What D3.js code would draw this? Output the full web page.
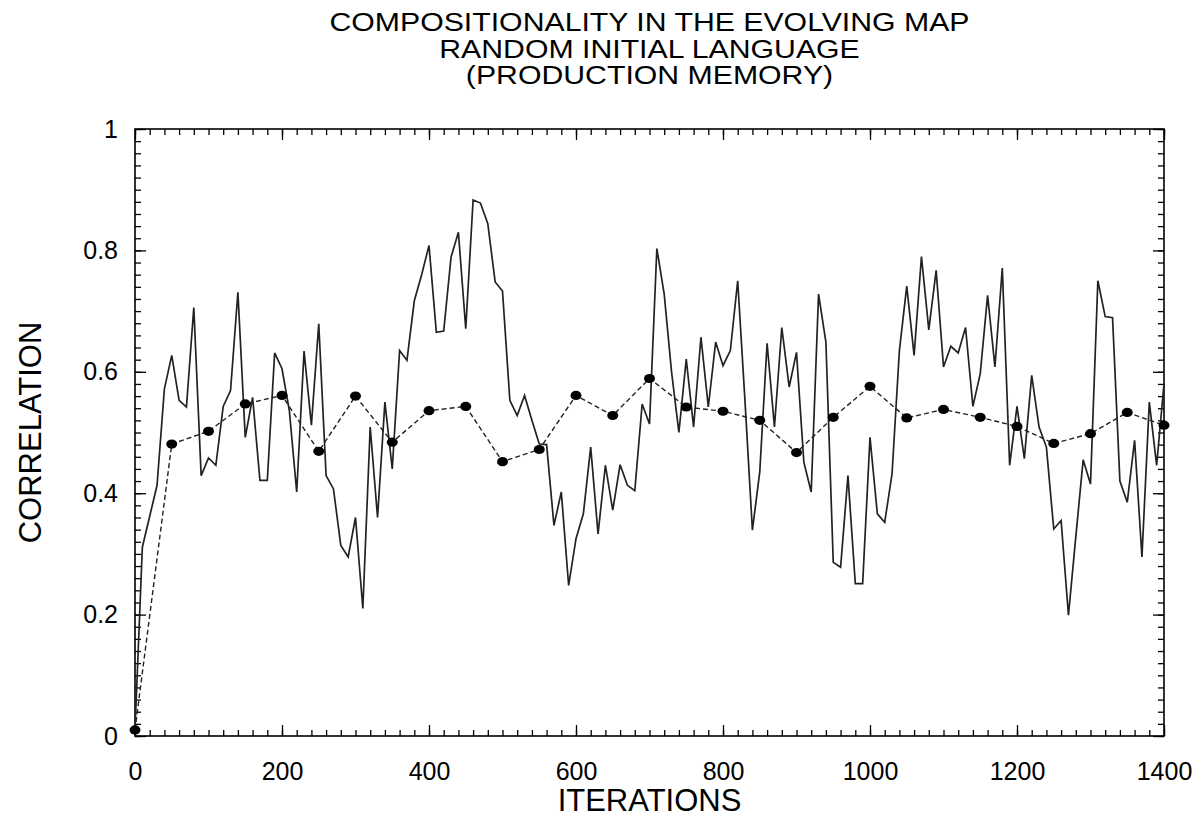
<!DOCTYPE html>
<html>
<head>
<meta charset="utf-8">
<script src="https://cdn.jsdelivr.net/npm/d3@7"></script>
<style>
  html, body { margin: 0; padding: 0; background: #fff; }
  svg { display: block; }
  text { font-family: "Liberation Sans", Arial, Helvetica, sans-serif; fill: #000; }
</style>
</head>
<body>
<svg id="chart" width="1201" height="827"></svg>
<script>
// ---- Data ----
const titleLines = ["COMPOSITIONALITY IN THE EVOLVING MAP", "RANDOM INITIAL LANGUAGE", "(PRODUCTION MEMORY)"];
const xLabel = "ITERATIONS";
const yLabel = "CORRELATION";
const xTicks = [0, 200, 400, 600, 800, 1000, 1200, 1400];
const yTicks = [0, 0.2, 0.4, 0.6, 0.8, 1];
const yTickLabels = ["0", "0.2", "0.4", "0.6", "0.8", "1"];

// solid series: sampled every 10 iterations, from 0 to 1400
const solidStep = 10;
const solidValues = [
  0.01, 0.311, 0.362, 0.413, 0.572, 0.627, 0.553, 0.542, 0.706, 0.429,
  0.458, 0.446, 0.543, 0.569, 0.731, 0.492, 0.558, 0.421, 0.421, 0.631,
  0.605, 0.536, 0.402, 0.634, 0.512, 0.679, 0.429, 0.407, 0.314, 0.295,
  0.360, 0.210, 0.509, 0.360, 0.550, 0.440, 0.635, 0.619, 0.717, 0.760,
  0.808, 0.665, 0.667, 0.789, 0.830, 0.671, 0.883, 0.878, 0.844, 0.748,
  0.733, 0.553, 0.528, 0.561, 0.520, 0.481, 0.480, 0.347, 0.402, 0.248,
  0.325, 0.366, 0.476, 0.333, 0.446, 0.372, 0.447, 0.413, 0.404, 0.547,
  0.514, 0.803, 0.728, 0.600, 0.500, 0.621, 0.509, 0.657, 0.542, 0.649,
  0.610, 0.635, 0.750, 0.550, 0.339, 0.435, 0.647, 0.509, 0.673, 0.575,
  0.632, 0.451, 0.402, 0.728, 0.649, 0.286, 0.278, 0.429, 0.251, 0.251,
  0.492, 0.366, 0.352, 0.432, 0.635, 0.741, 0.627, 0.790, 0.669, 0.767,
  0.608, 0.642, 0.631, 0.673, 0.543, 0.597, 0.726, 0.608, 0.771, 0.446,
  0.543, 0.457, 0.594, 0.509, 0.476, 0.341, 0.355, 0.199, 0.328, 0.455,
  0.415, 0.750, 0.691, 0.689, 0.420, 0.385, 0.487, 0.295, 0.550, 0.446,
  0.580
];

// dashed series with dots: every 50 iterations
const dashedIterations = [0, 50, 100, 150, 200, 250, 300, 350, 400, 450, 500, 550, 600, 650, 700,
  750, 800, 850, 900, 950, 1000, 1050, 1100, 1150, 1200, 1250, 1300, 1350, 1400];
const dashedValues = [0.01, 0.481, 0.502, 0.547, 0.561, 0.469, 0.560, 0.484, 0.536, 0.543, 0.452,
  0.472, 0.561, 0.528, 0.589, 0.542, 0.535, 0.520, 0.467, 0.525, 0.576, 0.524, 0.538, 0.525,
  0.510, 0.482, 0.498, 0.533, 0.512];

// ---- Layout ----
const W = 1201, H = 827;
const plot = { left: 135, right: 1164, top: 129, bottom: 736 };

const svg = d3.select("#chart");
svg.append("rect").attr("width", W).attr("height", H).attr("fill", "#fff");

const x = d3.scaleLinear().domain([0, 1400]).range([plot.left, plot.right]);
const y = d3.scaleLinear().domain([0, 1]).range([plot.bottom, plot.top]);

const minorX = d3.range(0, 1401, 20);
const minorY = d3.range(0, 51).map(i => i / 50);

function styleAxis(g) {
  g.select(".domain").remove();
  g.selectAll(".tick line").attr("stroke", "#000").attr("stroke-width", 1.3);
  g.selectAll(".tick text").attr("font-size", 25).attr("font-family", '"Liberation Sans", Arial, sans-serif');
}

// minor ticks
svg.append("g").attr("transform", `translate(0,${plot.bottom})`)
  .call(d3.axisBottom(x).tickValues(minorX).tickSize(-6).tickFormat(""))
  .call(styleAxis);
svg.append("g").attr("transform", `translate(0,${plot.top})`)
  .call(d3.axisTop(x).tickValues(minorX).tickSize(-6).tickFormat(""))
  .call(styleAxis);
svg.append("g").attr("transform", `translate(${plot.left},0)`)
  .call(d3.axisLeft(y).tickValues(minorY).tickSize(-6).tickFormat(""))
  .call(styleAxis);
svg.append("g").attr("transform", `translate(${plot.right},0)`)
  .call(d3.axisRight(y).tickValues(minorY).tickSize(-6).tickFormat(""))
  .call(styleAxis);

// major ticks
svg.append("g").attr("transform", `translate(0,${plot.bottom})`)
  .call(d3.axisBottom(x).tickValues(xTicks).tickSize(-11).tickPadding(26).tickFormat(d => String(d)))
  .call(styleAxis);
svg.append("g").attr("transform", `translate(0,${plot.top})`)
  .call(d3.axisTop(x).tickValues(xTicks).tickSize(-11).tickFormat(""))
  .call(styleAxis);
svg.append("g").attr("transform", `translate(${plot.left},0)`)
  .call(d3.axisLeft(y).tickValues(yTicks).tickSize(-11).tickPadding(17).tickFormat((d, i) => yTickLabels[i]))
  .call(styleAxis);
svg.append("g").attr("transform", `translate(${plot.right},0)`)
  .call(d3.axisRight(y).tickValues(yTicks).tickSize(-11).tickFormat(""))
  .call(styleAxis);

// frame
svg.append("rect")
  .attr("x", plot.left).attr("y", plot.top)
  .attr("width", plot.right - plot.left).attr("height", plot.bottom - plot.top)
  .attr("fill", "none").attr("stroke", "#000").attr("stroke-width", 1.6);

// solid line
const solidData = solidValues.map((v, i) => ({ it: i * solidStep, v }));
const line = d3.line().x(d => x(d.it)).y(d => y(d.v));
svg.append("path").datum(solidData)
  .attr("d", line)
  .attr("fill", "none").attr("stroke", "#222").attr("stroke-width", 1.7)
  .attr("stroke-linejoin", "miter");

// dashed line with dots
const dashedData = dashedIterations.map((it, i) => ({ it, v: dashedValues[i] }));
svg.append("path").datum(dashedData)
  .attr("d", line)
  .attr("fill", "none").attr("stroke", "#222").attr("stroke-width", 1.4)
  .attr("stroke-dasharray", "5,3");
svg.append("g").selectAll("ellipse").data(dashedData).join("ellipse")
  .attr("cx", d => x(d.it)).attr("cy", d => y(d.v))
  .attr("rx", 5.5).attr("ry", 4.6).attr("fill", "#000");

// titles (slightly widened glyphs, tight line spacing as in the reference)
const cx = (plot.left + plot.right) / 2;
titleLines.forEach((t, i) => {
  svg.append("text")
    .attr("transform", `translate(${cx},${31 + i * 26.5}) scale(1.21,1)`)
    .attr("text-anchor", "middle").attr("font-size", 25).text(t);
});

svg.append("text")
  .attr("x", cx).attr("y", 811)
  .attr("text-anchor", "middle").attr("font-size", 31).text(xLabel);

svg.append("text")
  .attr("transform", `translate(41,${(plot.top + plot.bottom) / 2}) rotate(-90)`)
  .attr("text-anchor", "middle").attr("font-size", 31).text(yLabel);
</script>
</body>
</html>
